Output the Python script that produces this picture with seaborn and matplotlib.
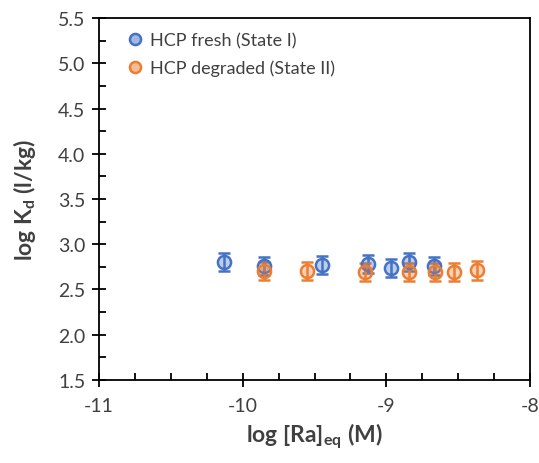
import numpy as np
import pandas as pd
import matplotlib
matplotlib.use("Agg")
import matplotlib.pyplot as plt
from matplotlib.colors import to_rgba
from matplotlib.ticker import MultipleLocator, FormatStrFormatter
import seaborn as sns

# data
fresh_x = [-10.13, -9.85, -9.45, -9.13, -8.97, -8.84, -8.67]
fresh_y = [2.80, 2.76, 2.77, 2.78, 2.74, 2.80, 2.76]
fresh_err = [0.10, 0.10, 0.10, 0.10, 0.10, 0.10, 0.10]

degr_x = [-9.85, -9.55, -9.15, -8.84, -8.66, -8.53, -8.37]
degr_y = [2.70, 2.70, 2.69, 2.69, 2.69, 2.69, 2.71]
degr_err = [0.10, 0.10, 0.10, 0.10, 0.10, 0.10, 0.10]

labels = ["HCP fresh (State I)", "HCP degraded (State II)"]
colors = ["#4472C4", "#ED7D31"]

sns.set_theme(style="white")
plt.rcParams["font.family"] = ["Lato", "DejaVu Sans"]
plt.rcParams["mathtext.fontset"] = "custom"
plt.rcParams["mathtext.rm"] = "Lato"
plt.rcParams["mathtext.bf"] = "Lato:bold"
plt.rcParams["mathtext.default"] = "bf"
plt.rcParams["axes.unicode_minus"] = False

series = [
    pd.DataFrame({"x": fresh_x, "y": fresh_y, "err": fresh_err}),
    pd.DataFrame({"x": degr_x, "y": degr_y, "err": degr_err}),
]

fig = plt.figure(figsize=(5.39, 4.64), dpi=100)
ax = fig.add_axes([0.184, 0.179, 0.799, 0.780])

for d, lab, col in zip(series, labels, colors):
    ax.errorbar(d["x"], d["y"], yerr=d["err"], fmt="none", ecolor=col,
                elinewidth=1.8, capsize=4.5, capthick=1.8, zorder=2)
    sns.scatterplot(data=d, x="x", y="y", ax=ax, s=90, linewidth=1.8,
                    color=to_rgba(col, 0.35), edgecolor=col, legend=False,
                    zorder=3)

ax.set_xlim(-11, -8)
ax.set_ylim(1.5, 5.5)
ax.xaxis.set_major_locator(MultipleLocator(1))
ax.xaxis.set_minor_locator(MultipleLocator(0.25))
ax.yaxis.set_major_locator(MultipleLocator(0.5))
ax.yaxis.set_minor_locator(MultipleLocator(0.25))
ax.yaxis.set_major_formatter(FormatStrFormatter("%.1f"))
ax.tick_params(which="major", direction="inout", length=10, width=1.3,
               labelsize=14, colors="black", labelcolor="#404040")
ax.tick_params(which="minor", direction="in", length=5, width=1.3, colors="black")
ax.tick_params(axis="x", which="both", bottom=True, top=False, pad=7)
ax.tick_params(axis="y", which="both", left=True, right=False, pad=5)
for sp in ax.spines.values():
    sp.set_visible(True)
    sp.set_color("black")
    sp.set_linewidth(1.3)

ax.set_xlabel("log [Ra]$_{eq}$ (M)", fontsize=16.5, fontweight="bold",
              color="#404040", labelpad=5)
ax.set_ylabel("log K$_{d}$ (l/kg)", fontsize=16.5, fontweight="bold",
              color="#404040", labelpad=14)

handles = [plt.Line2D([], [], marker="o", linestyle="", markersize=8,
                      markerfacecolor=to_rgba(c, 0.5),
                      markeredgecolor=c, markeredgewidth=1.8) for c in colors]
ax.legend(handles, labels, loc="upper left", frameon=False, fontsize=13,
          handlelength=1.0, handletextpad=0.3, labelspacing=0.6,
          borderaxespad=0.5, labelcolor="#404040",
          bbox_to_anchor=(0.025, 1.005))

fig.savefig("out.png", dpi=100)
